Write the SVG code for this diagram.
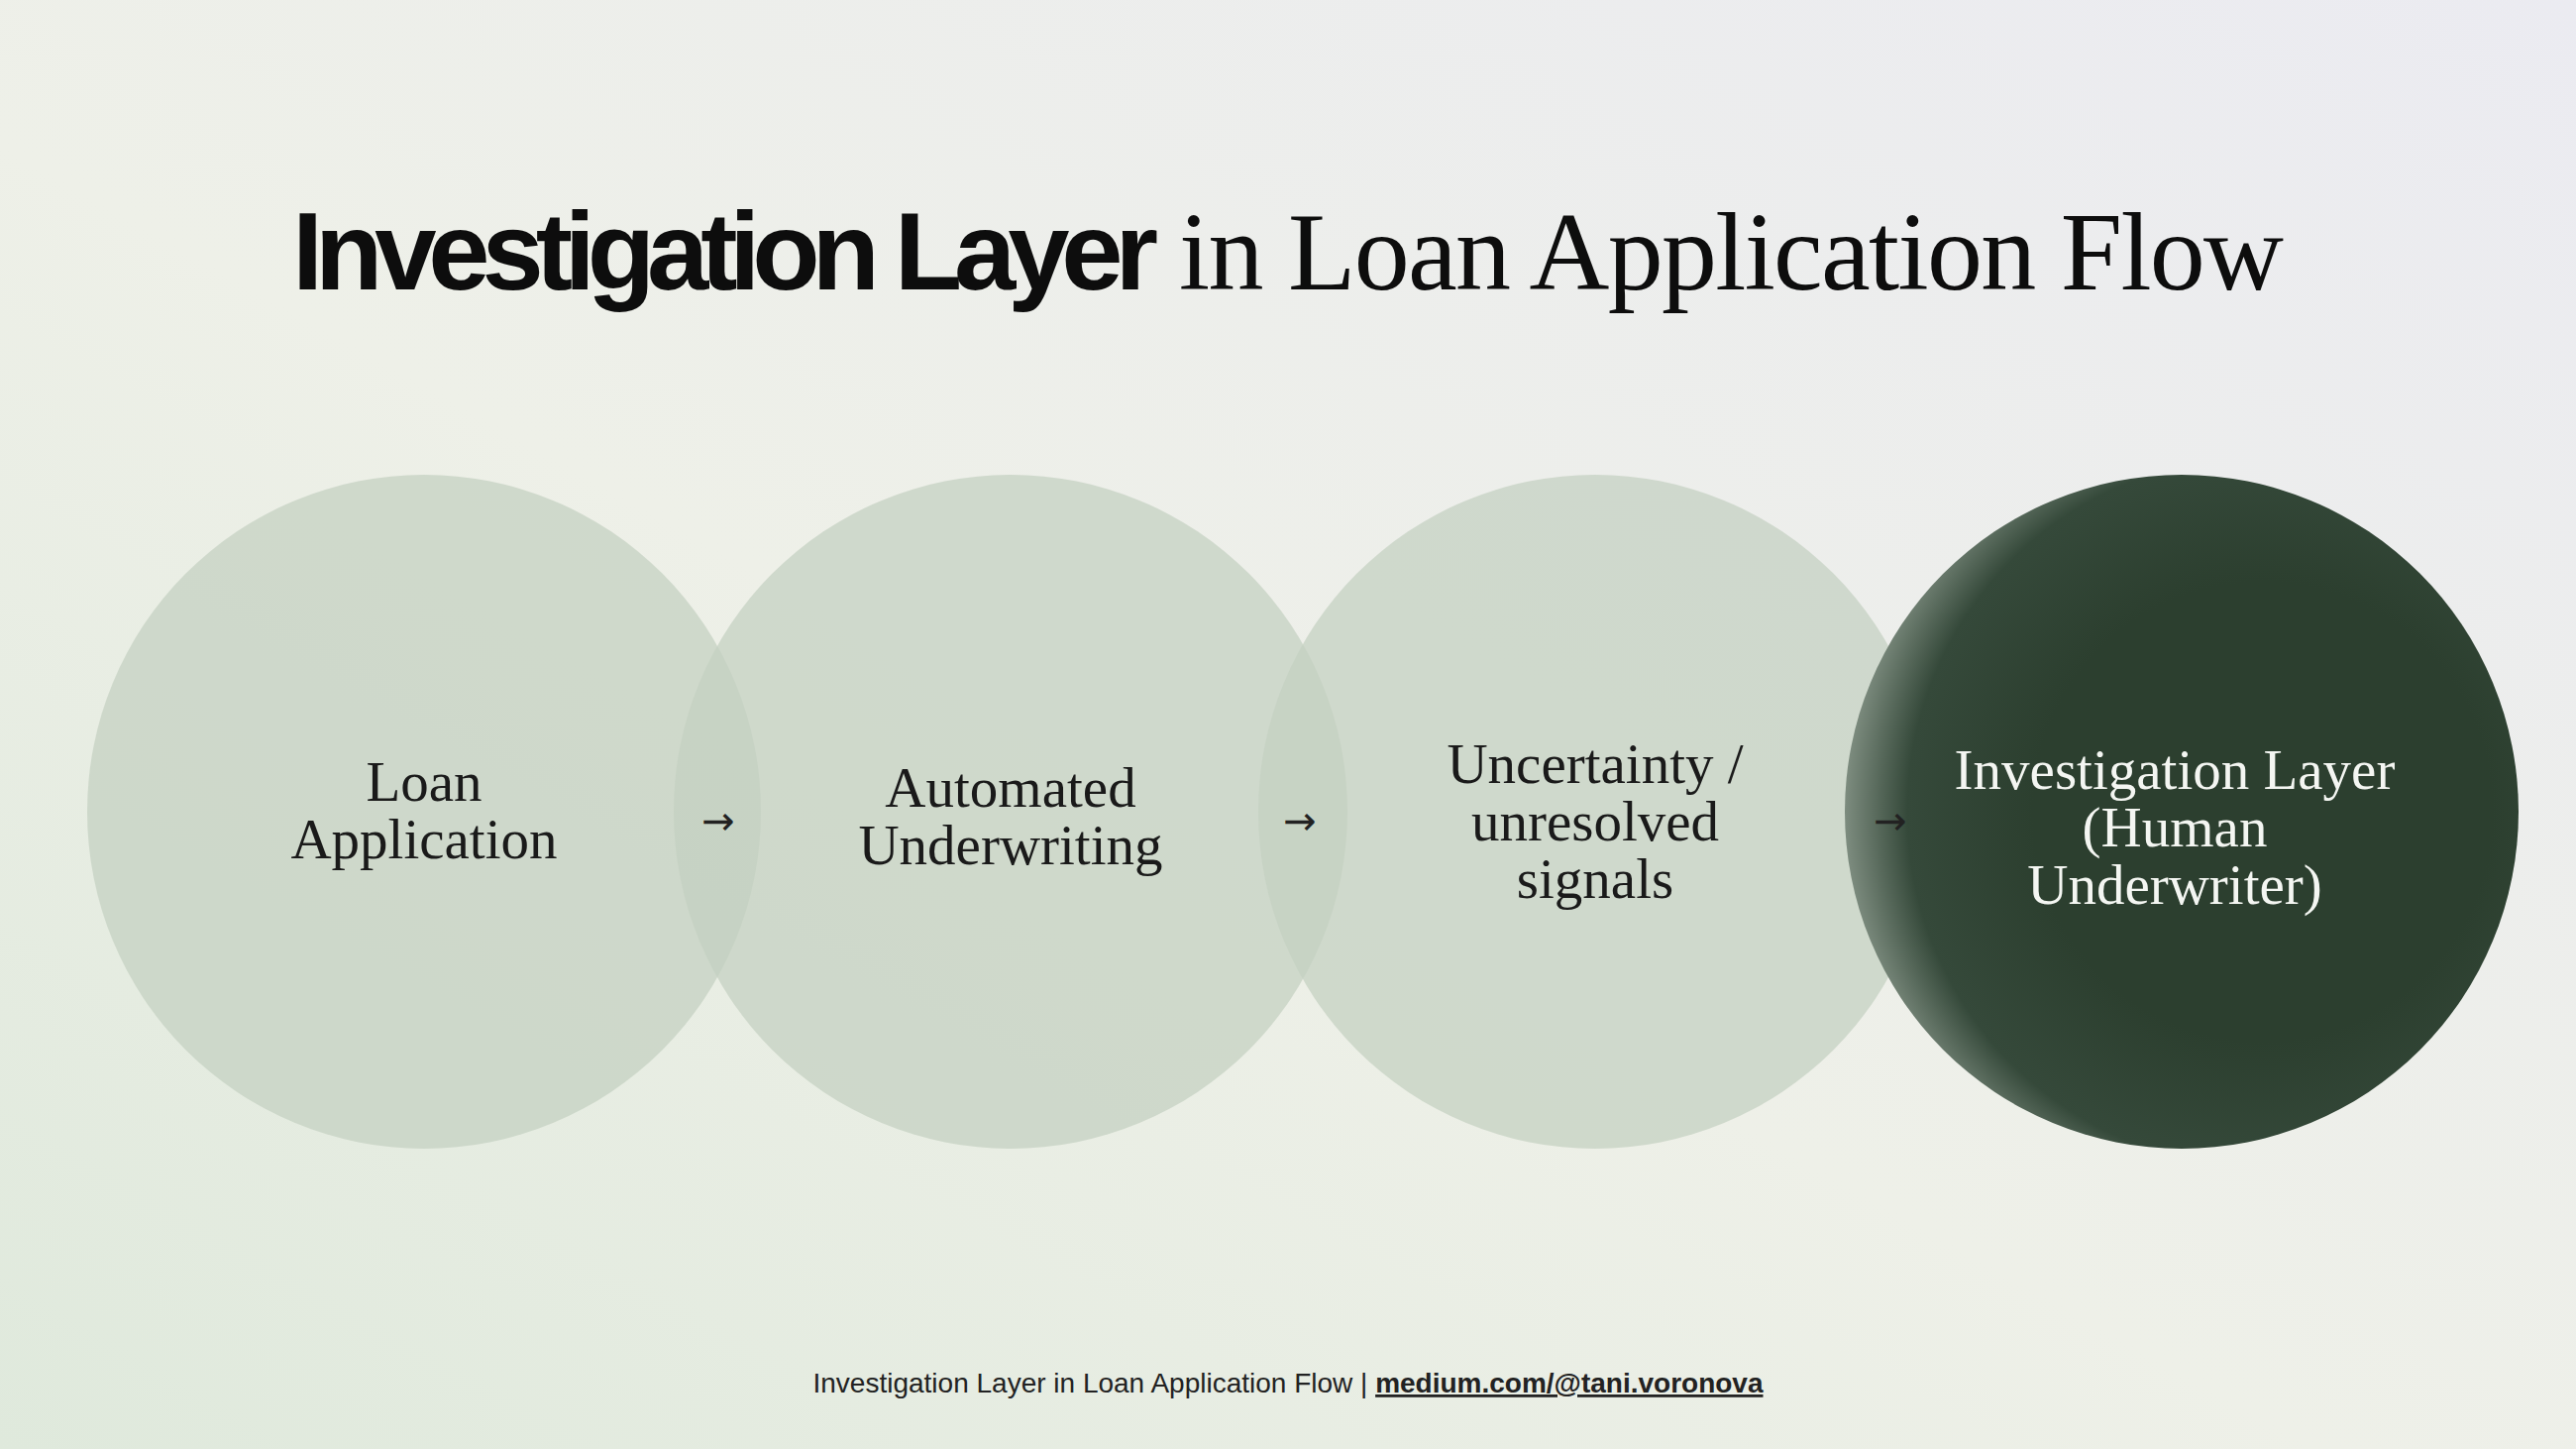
<svg xmlns="http://www.w3.org/2000/svg" width="2600" height="1462" viewBox="0 0 2600 1462">
<defs>
<linearGradient id="bg" x1="0" y1="1" x2="1" y2="0">
<stop offset="0" stop-color="#dfe9dc"/>
<stop offset="0.45" stop-color="#eef0e8"/>
<stop offset="1" stop-color="#ebebf1"/>
</linearGradient>
<radialGradient id="dark" cx="0.62" cy="0.5" r="0.62">
<stop offset="0.55" stop-color="#2c3f2f"/>
<stop offset="0.85" stop-color="#35493a"/>
<stop offset="1" stop-color="#7d8c7f"/>
</radialGradient>
<style>
.c{fill:#c3d0c0;fill-opacity:0.72}
.t{font-family:"Liberation Serif","DejaVu Serif",serif;font-size:57px;fill:#1a1a1a;text-anchor:middle}
.w{fill:#f4f6f2}
.a{font-family:"DejaVu Sans",sans-serif;font-size:40px;fill:#222;text-anchor:middle}
</style>
</defs>
<rect width="2600" height="1462" fill="url(#bg)"/>
<text x="295" y="292" font-family="Liberation Sans,Arial,sans-serif" font-weight="bold" font-size="112" letter-spacing="-4" textLength="870" fill="#0d0d0d">Investigation Layer</text>
<text x="1190" y="292" font-family="Liberation Serif,serif" font-size="112" textLength="1115" fill="#0d0d0d">in Loan Application Flow</text>
<g id="n1"><circle class="c" cx="428" cy="819" r="340"/><text class="t" x="428" y="808">Loan</text><text class="t" x="428" y="866">Application</text></g>
<g id="n2"><circle class="c" cx="1020" cy="819" r="340"/><text class="t" x="1020" y="814">Automated</text><text class="t" x="1020" y="872">Underwriting</text></g>
<g id="n3"><circle class="c" cx="1610" cy="819" r="340"/><text class="t" x="1610" y="790">Uncertainty /</text><text class="t" x="1610" y="848">unresolved</text><text class="t" x="1610" y="906">signals</text></g>
<g id="n4"><circle fill="url(#dark)" cx="2202" cy="819" r="340"/><text class="t w" x="2195" y="796">Investigation Layer</text><text class="t w" x="2195" y="854">(Human</text><text class="t w" x="2195" y="912">Underwriter)</text></g>
<g id="connectors">
<text class="a" x="725" y="842">→</text>
<text class="a" x="1312" y="842">→</text>
<text class="a w" x="1908" y="842">→</text>
</g>
<text x="1300" y="1405" text-anchor="middle" font-family="Liberation Sans,Arial,sans-serif" font-size="28" fill="#222">Investigation Layer in Loan Application Flow | <tspan font-weight="bold" text-decoration="underline">medium.com/@tani.voronova</tspan></text>
</svg>
